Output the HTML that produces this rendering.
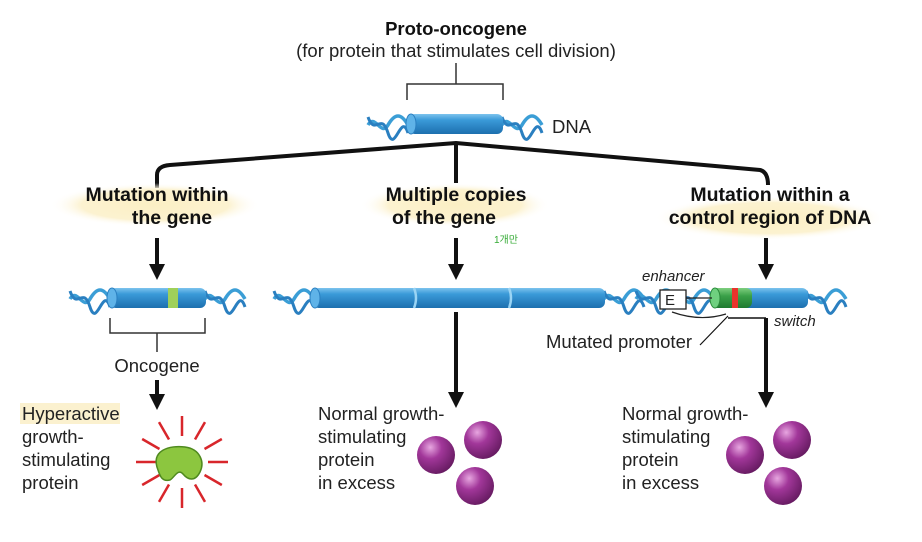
<!DOCTYPE html>
<html><head><meta charset="utf-8"><style>
html,body{margin:0;padding:0;background:#fff;}
svg{display:block;font-family:"Liberation Sans","Noto Sans CJK KR",sans-serif;}
.t{font-size:18.5px;fill:#222}
.b{font-size:19.5px;font-weight:bold;fill:#111}
</style></head><body>
<svg width="922" height="542" viewBox="0 0 922 542" xmlns="http://www.w3.org/2000/svg">
<defs>
<linearGradient id="cyl" x1="0" y1="0" x2="0" y2="1">
<stop offset="0" stop-color="#7cc3ee"/><stop offset="0.3" stop-color="#3a9ad8"/><stop offset="1" stop-color="#1d6fae"/></linearGradient>
<linearGradient id="grn" x1="0" y1="0" x2="0" y2="1">
<stop offset="0" stop-color="#7fcf7f"/><stop offset="0.4" stop-color="#3aa048"/><stop offset="1" stop-color="#1f7a30"/></linearGradient>
<radialGradient id="pur" cx="0.35" cy="0.3" r="0.75">
<stop offset="0" stop-color="#e7a6e0"/><stop offset="0.4" stop-color="#a2379a"/><stop offset="1" stop-color="#651a60"/></radialGradient>
<radialGradient id="hl" cx="0.5" cy="0.5" r="0.5">
<stop offset="0" stop-color="#fbefc4"/><stop offset="0.7" stop-color="#fcf2d0"/><stop offset="1" stop-color="#fff" stop-opacity="0"/></radialGradient>
<g id="hx">
<path d="M0,10 C7,-2 13,22 20,10 S33,-2 40,10" fill="none" stroke="#3b9ed6" stroke-width="3.5"/>
<path d="M0,2 C7,22 13,-4 20,18 S33,-4 40,18" fill="none" stroke="#2a7fc0" stroke-width="3"/>
</g>
<marker id="ah" markerWidth="4" markerHeight="4" refX="2" refY="2" orient="auto" markerUnits="strokeWidth"><path d="M0,0 L4,2 L0,4 z" fill="#111"/></marker>
</defs>

<text x="456" y="35" text-anchor="middle" class="b" style="font-size:18.5px">Proto-oncogene</text>
<text x="456" y="57" text-anchor="middle" class="t">(for protein that stimulates cell division)</text>
<path d="M456,63 V84 M407,100 V84 H503 V100" fill="none" stroke="#333" stroke-width="1.5"/>
<use href="#hx" x="368" y="115"/><use href="#hx" x="502" y="115"/>
<rect x="409" y="114" width="94" height="20" rx="6" fill="url(#cyl)"/>
<ellipse cx="411" cy="124" rx="5" ry="10" fill="#5fb3e8" stroke="#2a7fc0"/>
<text x="552" y="133" class="t">DNA</text>

<path d="M157,188 V175 Q157,166 170,165 L456,143 L760,170 Q768,172 768,185" fill="none" stroke="#111" stroke-width="4"/>
<path d="M456,143 V183" stroke="#111" stroke-width="4"/>

<ellipse cx="155" cy="205" rx="105" ry="22" fill="url(#hl)"/>
<ellipse cx="455" cy="205" rx="95" ry="22" fill="url(#hl)"/>
<ellipse cx="770" cy="218" rx="115" ry="22" fill="url(#hl)"/>
<text x="157" y="201" text-anchor="middle" class="b">Mutation within</text>
<text x="172" y="224" text-anchor="middle" class="b">the gene</text>
<text x="456" y="201" text-anchor="middle" class="b">Multiple copies</text>
<text x="444" y="224" text-anchor="middle" class="b">of the gene</text>
<text x="770" y="201" text-anchor="middle" class="b">Mutation within a</text>
<text x="770" y="224" text-anchor="middle" class="b">control region of DNA</text>
<text x="494" y="243" style="font-size:10px;fill:#3a3">1개만</text>

<path d="M157,238 V272" stroke="#111" stroke-width="4" marker-end="url(#ah)"/>
<path d="M456,238 V272" stroke="#111" stroke-width="4" marker-end="url(#ah)"/>
<path d="M766,238 V272" stroke="#111" stroke-width="4" marker-end="url(#ah)"/>

<use href="#hx" x="70" y="289"/><use href="#hx" x="205" y="289"/>
<rect x="110" y="288" width="96" height="20" rx="6" fill="url(#cyl)"/>
<ellipse cx="112" cy="298" rx="5" ry="10" fill="#5fb3e8" stroke="#2a7fc0"/>
<rect x="168" y="288" width="10" height="20" fill="#9fd05a"/>
<path d="M110,318 V333 H205 V318 M157,333 V352" fill="none" stroke="#333" stroke-width="1.5"/>
<text x="157" y="372" text-anchor="middle" class="t">Oncogene</text>
<path d="M157,380 V402" stroke="#111" stroke-width="4" marker-end="url(#ah)"/>

<use href="#hx" x="274" y="289"/><use href="#hx" x="604" y="289"/>
<rect x="313" y="288" width="292" height="20" rx="6" fill="url(#cyl)"/>
<ellipse cx="315" cy="298" rx="5" ry="10" fill="#5fb3e8" stroke="#2a7fc0"/>
<path d="M414,288 q4,10 0,20 M509,288 q4,10 0,20" stroke="#9ad4f4" stroke-width="2.5" fill="none"/>
<path d="M456,312 V400" stroke="#111" stroke-width="4" marker-end="url(#ah)"/>

<use href="#hx" x="636" y="289"/><use href="#hx" x="674" y="289"/><use href="#hx" x="806" y="289"/>
<rect x="712" y="288" width="96" height="20" rx="6" fill="url(#cyl)"/>
<rect x="712" y="288" width="40" height="20" rx="6" fill="url(#grn)"/>
<rect x="732" y="288" width="6" height="20" fill="#e8342c"/>
<ellipse cx="715" cy="298" rx="5" ry="10" fill="#6fd07f" stroke="#2a8a3a"/>
<path d="M728,318 H766" stroke="#111" stroke-width="1.5"/>
<path d="M766,318 V400" stroke="#111" stroke-width="4" marker-end="url(#ah)"/>
<text x="546" y="348" class="t">Mutated promoter</text>
<path d="M700,345 L728,316" stroke="#111" stroke-width="1.2"/>
<text x="642" y="281" style="font-size:15px;font-style:italic;fill:#222">enhancer</text>
<rect x="660" y="290" width="26" height="19" fill="#fff" stroke="#222" stroke-width="1.3"/>
<text x="665" y="305" style="font-size:15px;fill:#222">E</text>
<path d="M686,298 H712 M672,312 Q700,322 726,314" fill="none" stroke="#222" stroke-width="1.2"/>
<text x="774" y="326" style="font-size:15px;font-style:italic;fill:#222">switch</text>

<rect x="20" y="403" width="100" height="21" fill="#fbf1cf"/>
<g class="t">
<text x="22" y="420">Hyperactive</text><text x="22" y="443">growth-</text><text x="22" y="466">stimulating</text><text x="22" y="489">protein</text>
<text x="318" y="420">Normal growth-</text><text x="318" y="443">stimulating</text><text x="318" y="466">protein</text><text x="318" y="489">in excess</text>
<text x="622" y="420">Normal growth-</text><text x="622" y="443">stimulating</text><text x="622" y="466">protein</text><text x="622" y="489">in excess</text>
</g>

<g stroke="#d8262b" stroke-width="2.5">
<line x1="182" y1="436" x2="182" y2="416" transform="rotate(0 182 462)"/>
<line x1="182" y1="436" x2="182" y2="416" transform="rotate(30 182 462)"/>
<line x1="182" y1="436" x2="182" y2="416" transform="rotate(60 182 462)"/>
<line x1="182" y1="436" x2="182" y2="416" transform="rotate(90 182 462)"/>
<line x1="182" y1="436" x2="182" y2="416" transform="rotate(120 182 462)"/>
<line x1="182" y1="436" x2="182" y2="416" transform="rotate(150 182 462)"/>
<line x1="182" y1="436" x2="182" y2="416" transform="rotate(180 182 462)"/>
<line x1="182" y1="436" x2="182" y2="416" transform="rotate(210 182 462)"/>
<line x1="182" y1="436" x2="182" y2="416" transform="rotate(240 182 462)"/>
<line x1="182" y1="436" x2="182" y2="416" transform="rotate(270 182 462)"/>
<line x1="182" y1="436" x2="182" y2="416" transform="rotate(300 182 462)"/>
<line x1="182" y1="436" x2="182" y2="416" transform="rotate(330 182 462)"/>
</g>
<path d="M158,470 C150,450 170,445 185,447 C200,449 205,462 200,472 C195,482 188,480 183,474 C178,468 174,478 170,480 C162,482 160,476 158,470 Z" fill="#8cc63f" stroke="#4f8a1f" stroke-width="1.5"/>

<circle cx="483" cy="440" r="19" fill="url(#pur)"/>
<circle cx="436" cy="455" r="19" fill="url(#pur)"/>
<circle cx="475" cy="486" r="19" fill="url(#pur)"/>
<circle cx="792" cy="440" r="19" fill="url(#pur)"/>
<circle cx="745" cy="455" r="19" fill="url(#pur)"/>
<circle cx="783" cy="486" r="19" fill="url(#pur)"/>
</svg>
</body></html>
